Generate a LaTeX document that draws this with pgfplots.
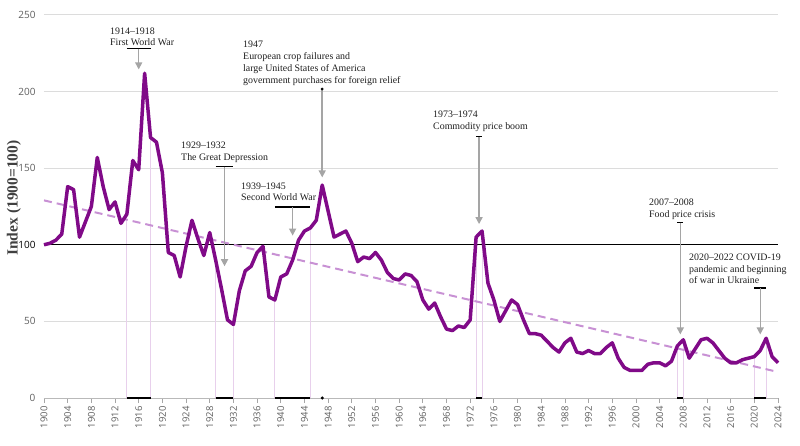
\documentclass[border=0pt]{standalone}
\usepackage{fontspec}
\setmainfont{Liberation Serif}
\newfontfamily\ticksfont{Open Sans}
\usepackage{pgfplots}
\usepackage{pgfplotstable}
\pgfplotsset{compat=1.18}
\usetikzlibrary{arrows.meta}

\definecolor{fpiline}{RGB}{128,10,136}
\definecolor{trendcol}{RGB}{200,145,212}
\definecolor{eventcol}{RGB}{232,208,236}
\definecolor{arrowcol}{RGB}{165,165,165}
\definecolor{gridcol}{RGB}{220,220,220}
\definecolor{tickcol}{RGB}{95,95,95}
\definecolor{notecol}{RGB}{30,30,30}

% Real food price index, 1900 = 100
\pgfplotstableread{
year value
1900 100
1901 101
1902 103
1903 107
1904 138
1905 136
1906 105
1907 115
1908 125
1909 157
1910 138
1911 123
1912 128
1913 114
1914 120
1915 155
1916 149
1917 212
1918 170
1919 167
1920 147
1921 95
1922 93
1923 79
1924 99
1925 116
1926 104
1927 93
1928 108
1929 90
1930 71
1931 51
1932 48
1933 70
1934 83
1935 86
1936 95
1937 99
1938 66
1939 64
1940 79
1941 81
1942 90
1943 103
1944 109
1945 111
1946 116
1947 139
1948 122
1949 105
1950 107
1951 109
1952 101
1953 89
1954 92
1955 91
1956 95
1957 90
1958 82
1959 78
1960 77
1961 81
1962 80
1963 76
1964 64
1965 58
1966 62
1967 53
1968 45
1969 44
1970 47
1971 46
1972 51
1973 105
1974 109
1975 75
1976 64
1977 50
1978 57
1979 64
1980 61
1981 51
1982 42
1983 42
1984 41
1985 37
1986 33
1987 30
1988 36
1989 39
1990 30
1991 29
1992 31
1993 29
1994 29
1995 33
1996 36
1997 26
1998 20
1999 18
2000 18
2001 18
2002 22
2003 23
2004 23
2005 21
2006 24
2007 34
2008 38
2009 26
2010 32
2011 38
2012 39
2013 36
2014 31
2015 26
2016 23
2017 23
2018 25
2019 26
2020 27
2021 31
2022 39
2023 27
2024 23
}\fpi

% Long-run linear trend
\pgfplotstableread{
year value
1900 129
2024 17
}\trend

\begin{document}
\begin{tikzpicture}
\useasboundingbox (0pt,0pt) rectangle (800pt,445pt);
\begin{axis}[
  at={(44pt,47pt)}, anchor=south west,
  scale only axis, width=734pt, height=383pt,
  xmin=1900, xmax=2024, ymin=0, ymax=250,
  clip=false,
  axis x line*=bottom, axis y line*=left,
  y axis line style={draw=none},
  x axis line style={draw=gray!55, line width=1pt},
  xtick={1900,1904,...,2024}, minor x tick num=3,
  ytick={0,50,...,250},
  yticklabels={0,50,\textcolor{black}{100},150,200,250},
  ytick style={draw=none},
  xtick style={draw=gray!70, line width=0.8pt},
  tick align=outside,
  major tick length=5pt, minor tick length=3pt,
  ymajorgrids, grid style={gridcol, line width=1pt},
  /pgf/number format/assume math mode=true,
  /pgf/number format/1000 sep={},
  xticklabel style={rotate=90, anchor=east, text=tickcol,
    font=\ticksfont\fontsize{9.5}{10}\selectfont},
  yticklabel style={text=tickcol, font=\ticksfont\fontsize{10}{10}\selectfont},
  ylabel={Index (1900=100)},
  ylabel style={at={(axis description cs:-0.041,0.522)}, anchor=center,
    font=\bfseries\fontsize{15.5}{15.5}\selectfont, text=black!75},
]
% crisis years: thin guides from the axis up to the index
\addplot[eventcol, line width=0.8pt] coordinates {(1914,0) (1914,120)};
\addplot[eventcol, line width=0.8pt] coordinates {(1918,0) (1918,170)};
\addplot[eventcol, line width=0.8pt] coordinates {(1929,0) (1929,90)};
\addplot[eventcol, line width=0.8pt] coordinates {(1932,0) (1932,48)};
\addplot[eventcol, line width=0.8pt] coordinates {(1939,0) (1939,64)};
\addplot[eventcol, line width=0.8pt] coordinates {(1945,0) (1945,111)};
\addplot[eventcol, line width=0.8pt] coordinates {(1973,0) (1973,105)};
\addplot[eventcol, line width=0.8pt] coordinates {(1974,0) (1974,109)};
\addplot[eventcol, line width=0.8pt] coordinates {(2007,0) (2007,34)};
\addplot[eventcol, line width=0.8pt] coordinates {(2008,0) (2008,38)};
\addplot[eventcol, line width=0.8pt] coordinates {(2020,0) (2020,27)};
\addplot[eventcol, line width=0.8pt] coordinates {(2022,0) (2022,39)};

% crisis spans on the time axis
\addplot[black, line width=1.6pt] coordinates {(1914,0) (1918,0)};
\addplot[black, line width=1.6pt] coordinates {(1929,0) (1932,0)};
\addplot[black, line width=1.6pt] coordinates {(1939,0) (1945,0)};
\addplot[black, line width=1.6pt] coordinates {(1973,0) (1974,0)};
\addplot[black, line width=1.6pt] coordinates {(2007,0) (2008,0)};
\addplot[black, line width=1.6pt] coordinates {(2020,0) (2022,0)};
\addplot[black, only marks, mark=*, mark size=1.3pt] coordinates {(1947,0)};

% baseline 1900 = 100
\addplot[black, line width=1.2pt] coordinates {(1900,100) (2024,100)};

% trend
\addplot[trendcol, line width=2pt, dash pattern=on 8pt off 5pt] table[x=year, y=value] {\trend};

% annotation brackets and arrows
\addplot[black, line width=1.4pt] coordinates {(1914,228) (1918,228)};
\addplot[black, line width=1.4pt] coordinates {(1929,151) (1932,151)};
\addplot[black, line width=1.4pt] coordinates {(1939,124.6) (1945,124.6)};
\addplot[black, line width=1.4pt] coordinates {(1973,170.5) (1974,170.5)};
\addplot[black, line width=1.4pt] coordinates {(2007,114.4) (2008,114.4)};
\addplot[black, line width=1.4pt] coordinates {(2020,71.8) (2022,71.8)};
\addplot[black, only marks, mark=*, mark size=1.2pt] coordinates {(1947,201.7)};

\addplot[arrowcol, line width=1.5pt, -{Triangle[width=7pt,length=7pt]}] coordinates {(1916,228) (1916,214.5)};
\addplot[arrowcol, line width=1.5pt, -{Triangle[width=7pt,length=7pt]}] coordinates {(1930.5,151) (1930.5,86)};
\addplot[arrowcol, line width=1.5pt, -{Triangle[width=7pt,length=7pt]}] coordinates {(1942,124.6) (1942,106)};
\addplot[arrowcol, line width=1.5pt, -{Triangle[width=7pt,length=7pt]}] coordinates {(1947,201.7) (1947,144)};
\addplot[arrowcol, line width=1.5pt, -{Triangle[width=7pt,length=7pt]}] coordinates {(1973.5,170.5) (1973.5,113.5)};
\addplot[arrowcol, line width=1.5pt, -{Triangle[width=7pt,length=7pt]}] coordinates {(2007.5,114.4) (2007.5,41.5)};
\addplot[arrowcol, line width=1.5pt, -{Triangle[width=7pt,length=7pt]}] coordinates {(2021,71.8) (2021,41.5)};

% index
\addplot[fpiline, line width=3.5pt, line join=round] table[x=year, y=value] {\fpi};
\end{axis}

\begin{scope}[every node/.style={anchor=base west, inner sep=0pt, text=notecol,
    font=\fontsize{9.9}{11}\selectfont}]
\node at (110pt,410.5pt) {1914–1918};
\node at (110pt,399pt) {First World War};
\node at (243pt,397.7pt) {1947};
\node at (243pt,385pt) {European crop failures and};
\node at (243pt,373.3pt) {large United States of America};
\node at (243pt,361.5pt) {government purchases for foreign relief};
\node at (181pt,296pt) {1929–1932};
\node at (181pt,284.3pt) {The Great Depression};
\node at (241pt,255.7pt) {1939–1945};
\node at (241pt,244pt) {Second World War};
\node at (433pt,327.3pt) {1973–1974};
\node at (433pt,315.7pt) {Commodity price boom};
\node at (649pt,239.7pt) {2007–2008};
\node at (649pt,228pt) {Food price crisis};
\node at (689pt,184.7pt) {2020–2022 COVID-19};
\node at (689pt,173pt) {pandemic and beginning};
\node at (689pt,161.3pt) {of war in Ukraine};
\end{scope}
\end{tikzpicture}
\end{document}
